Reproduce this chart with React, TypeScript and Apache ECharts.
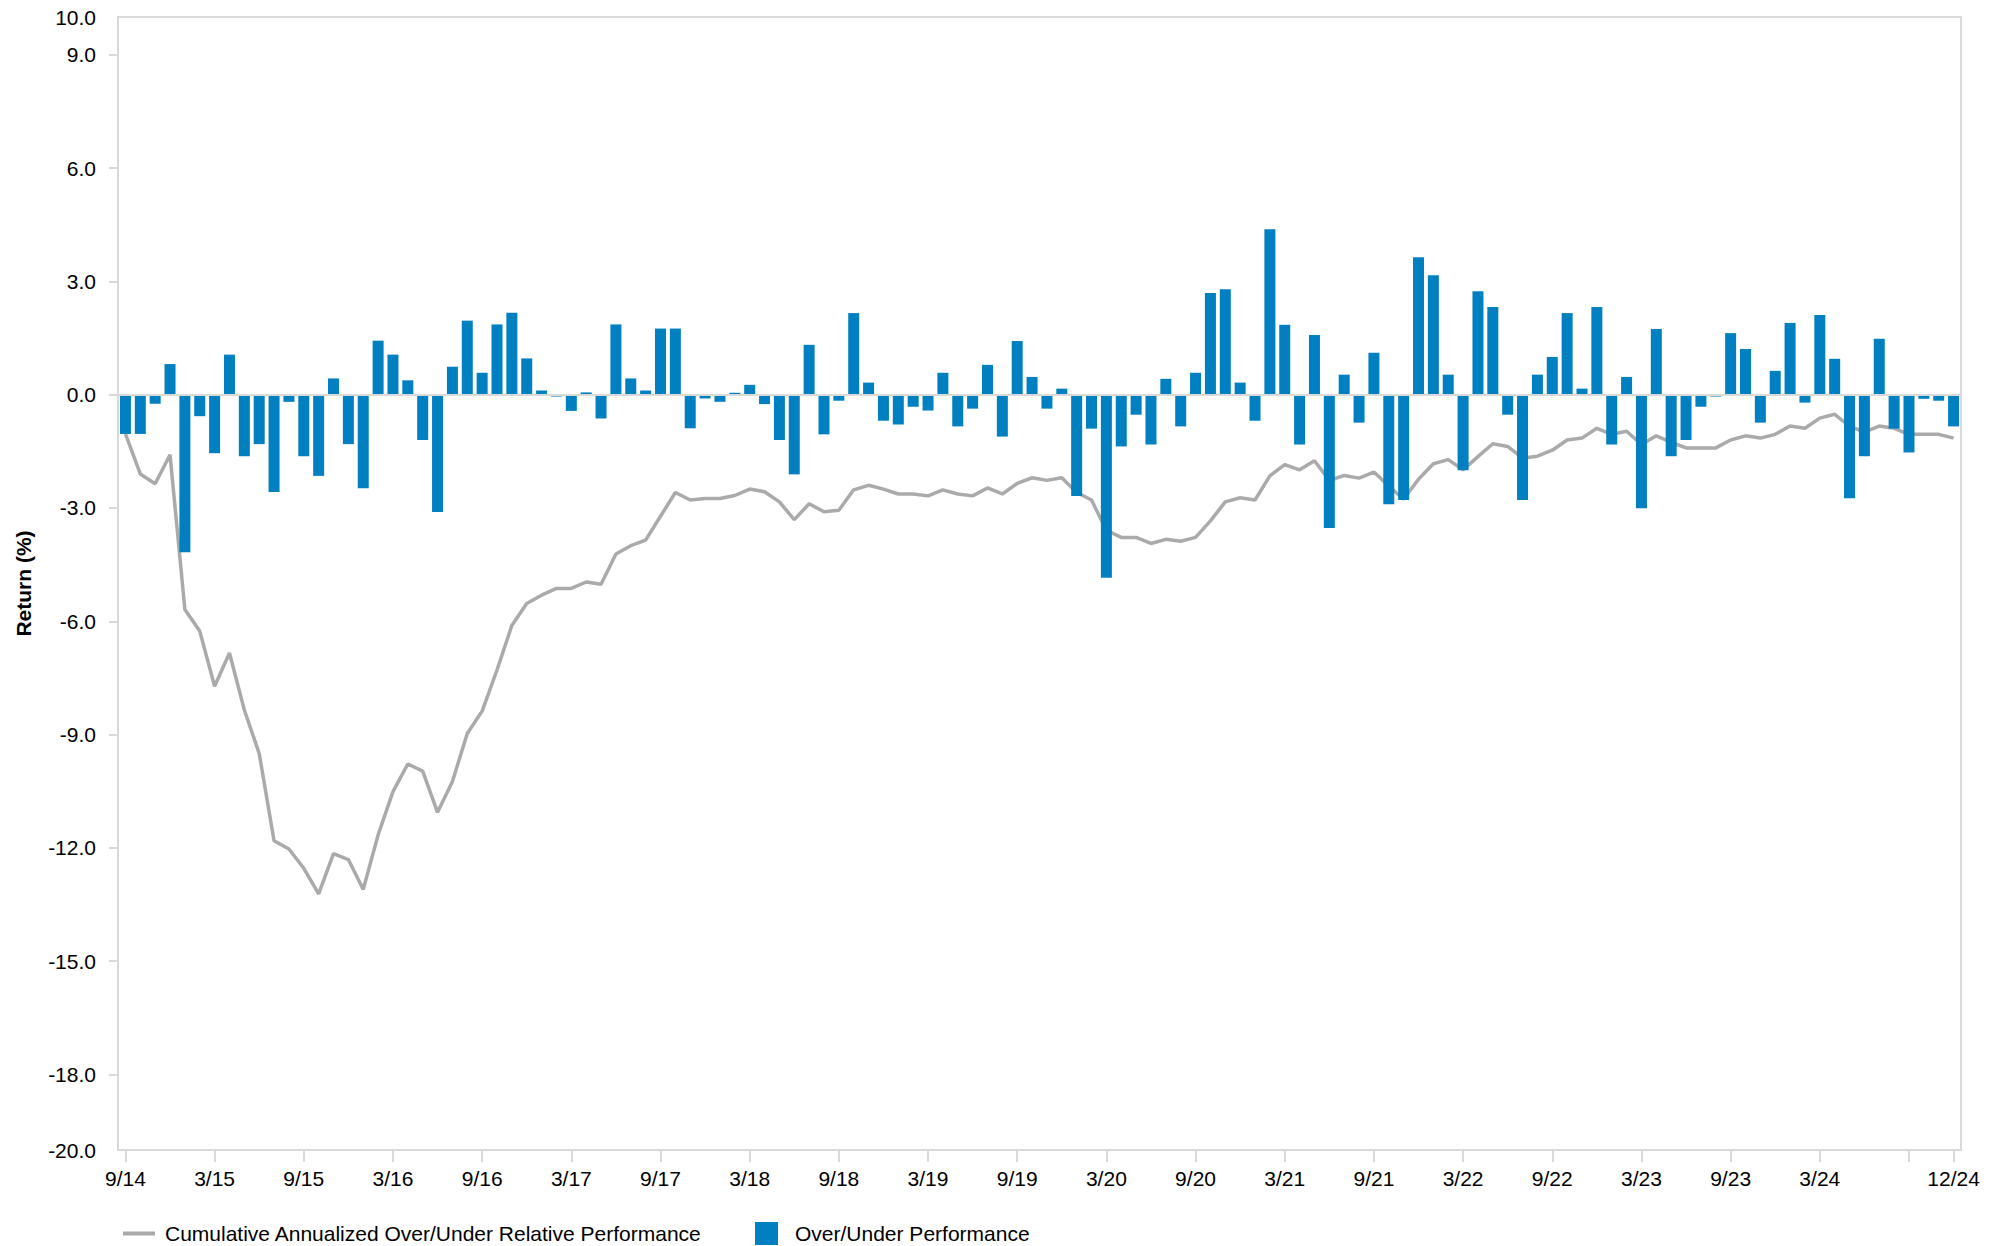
import React, { useEffect, useRef } from "react";
import * as echarts from "echarts";

// Monthly categories 9/14 .. 12/24 (124 months)
const startYear = 2014;
const startMonth = 9;
const monthCount = 124;
const categories: string[] = [];
for (let k = 0; k < monthCount; k++) {
  const m0 = startMonth - 1 + k;
  const y = startYear + Math.floor(m0 / 12);
  const m = (m0 % 12) + 1;
  categories.push(`${m}/${String(y % 100).padStart(2, "0")}`);
}

const xTickLabels = [
  "9/14", "3/15", "9/15", "3/16", "9/16", "3/17", "9/17", "3/18", "9/18", "3/19",
  "9/19", "3/20", "9/20", "3/21", "9/21", "3/22", "9/22", "3/23", "9/23", "3/24", "12/24",
];
const xTickMarks = [...xTickLabels, "9/24"];

const yLabelValues = [-20, -18, -15, -12, -9, -6, -3, 0, 3, 6, 9, 10];
const yTickValues = [-18, -15, -12, -9, -6, -3, 0, 3, 6, 9];

const overUnder = [
  -1.04, -1.04, -0.24, 0.81, -4.17, -0.57, -1.55, 1.06, -1.63, -1.31,
  -2.58, -0.19, -1.63, -2.15, 0.43, -1.31, -2.48, 1.43, 1.06, 0.38,
  -1.2, -3.11, 0.74, 1.96, 0.58, 1.86, 2.17, 0.96, 0.11, -0.05,
  -0.43, 0.06, -0.63, 1.86, 0.43, 0.11, 1.75, 1.75, -0.89, -0.1,
  -0.19, 0.05, 0.26, -0.25, -1.2, -2.11, 1.32, -1.05, -0.16, 2.16,
  0.32, -0.69, -0.79, -0.32, -0.42, 0.58, -0.84, -0.37, 0.79, -1.11,
  1.42, 0.47, -0.37, 0.16, -2.68, -0.9, -4.85, -1.37, -0.53, -1.32,
  0.42, -0.84, 0.58, 2.69, 2.79, 0.32, -0.69, 4.38, 1.85, -1.32,
  1.58, -3.53, 0.53, -0.74, 1.11, -2.9, -2.79, 3.64, 3.16, 0.53,
  -2.0, 2.74, 2.32, -0.53, -2.79, 0.53, 1.0, 2.16, 0.16, 2.32,
  -1.32, 0.47, -3.01, 1.74, -1.63, -1.2, -0.32, -0.05, 1.63, 1.21,
  -0.74, 0.63, 1.9, -0.21, 2.11, 0.95, -2.74, -1.63, 1.48, -0.9,
  -1.53, -0.11, -0.16, -0.84,
];

const cumulative = [
  -1.04, -2.1, -2.36, -1.59, -5.69, -6.26, -7.72, -6.84, -8.35, -9.5,
  -11.81, -12.03, -12.54, -13.22, -12.15, -12.31, -13.1, -11.66, -10.51, -9.78,
  -9.97, -11.06, -10.24, -8.97, -8.38, -7.29, -6.11, -5.53, -5.31, -5.13,
  -5.13, -4.96, -5.02, -4.22, -4.0, -3.85, -3.22, -2.59, -2.79, -2.75,
  -2.75, -2.67, -2.5, -2.57, -2.84, -3.31, -2.89, -3.1, -3.06, -2.52,
  -2.4, -2.5, -2.63, -2.63, -2.68, -2.52, -2.63, -2.68, -2.47, -2.63,
  -2.35, -2.2, -2.27, -2.2, -2.59, -2.79, -3.59, -3.78, -3.78, -3.94,
  -3.83, -3.88, -3.78, -3.34, -2.84, -2.73, -2.79, -2.15, -1.85, -1.99,
  -1.75, -2.27, -2.14, -2.21, -2.05, -2.42, -2.77, -2.24, -1.83, -1.72,
  -1.99, -1.64, -1.3, -1.37, -1.68, -1.63, -1.47, -1.2, -1.15, -0.89,
  -1.05, -0.97, -1.32, -1.09, -1.26, -1.41, -1.41, -1.41, -1.2, -1.09,
  -1.15, -1.05, -0.83, -0.89, -0.62, -0.52, -0.83, -0.99, -0.83, -0.89,
  -1.05, -1.05, -1.05, -1.15,
];

const LINE_NAME = "Cumulative Annualized Over/Under Relative Performance";
const BAR_NAME = "Over/Under Performance";
const FONT = "'Liberation Sans', Arial, Helvetica, sans-serif";
const GRID_GRAY = "#d9d9d9";
const BAR_BLUE = "#0080c0";
const LINE_GRAY = "#aaaaaa";
const FS = 21;

export default function App() {
  const ref = useRef<HTMLDivElement>(null);

  useEffect(() => {
    if (!ref.current) return;
    const chart = echarts.init(ref.current, undefined, { renderer: "svg" });
    const option: any = {
      animation: false,
      textStyle: { fontFamily: FONT },
      grid: {
        left: 118,
        right: 46,
        top: 17,
        bottom: 96,
        show: true,
        borderColor: GRID_GRAY,
        borderWidth: 2,
        containLabel: false,
      },
      legend: [
        {
          data: [{ name: LINE_NAME, icon: "rect" }],
          left: 118,
          top: 1218,
          itemWidth: 32,
          itemHeight: 4,
          textStyle: { fontSize: FS, color: "#000", fontFamily: FONT, padding: [0, 0, 0, 5] },
          selectedMode: false,
        },
        {
          data: [{ name: BAR_NAME, icon: "rect" }],
          left: 750,
          top: 1217,
          itemWidth: 23,
          itemHeight: 23,
          textStyle: { fontSize: FS, color: "#000", fontFamily: FONT, padding: [0, 0, 0, 12] },
          selectedMode: false,
        },
      ],
      xAxis: {
        type: "category",
        data: categories,
        boundaryGap: true,
        axisLine: { show: true, onZero: false, lineStyle: { color: GRID_GRAY, width: 2 } },
        axisTick: {
          show: true,
          alignWithLabel: true,
          length: 12,
          interval: (_i: number, v: string) => xTickMarks.includes(v),
          lineStyle: { color: GRID_GRAY, width: 2 },
        },
        axisLabel: {
          interval: (_i: number, v: string) => xTickLabels.includes(v),
          margin: 18,
          fontSize: FS,
          color: "#000",
          fontFamily: FONT,
        },
        splitLine: { show: false },
      },
      yAxis: {
        type: "value",
        min: -20,
        max: 10,
        name: "Return (%)",
        nameLocation: "middle",
        nameGap: 84,
        nameTextStyle: { fontSize: 21, fontWeight: "bold", color: "#000", fontFamily: FONT },
        axisLine: { show: true, lineStyle: { color: GRID_GRAY, width: 2 } },
        axisTick: {
          show: true,
          length: 9,
          customValues: yTickValues,
          lineStyle: { color: GRID_GRAY, width: 2 },
        },
        axisLabel: {
          customValues: yLabelValues,
          formatter: (v: number) => v.toFixed(1),
          margin: 22,
          fontSize: FS,
          color: "#000",
          fontFamily: FONT,
        },
        splitLine: { show: false },
      },
      series: [
        {
          name: LINE_NAME,
          type: "line",
          data: cumulative,
          showSymbol: false,
          symbol: "none",
          lineStyle: { color: LINE_GRAY, width: 3.5 },
          itemStyle: { color: LINE_GRAY },
          z: 2,
          markLine: {
            silent: true,
            symbol: "none",
            label: { show: false },
            lineStyle: { color: GRID_GRAY, width: 2, type: "solid" },
            data: [{ yAxis: 0 }],
          },
        },
        {
          name: BAR_NAME,
          type: "bar",
          data: overUnder,
          barWidth: 11,
          itemStyle: { color: BAR_BLUE },
          z: 3,
        },
      ],
    };
    chart.setOption(option);
    return () => chart.dispose();
  }, []);

  return (
    <div
      ref={ref}
      style={{ position: "absolute", left: 0, top: 0, width: 2007, height: 1246, background: "#fff" }}
    />
  );
}
